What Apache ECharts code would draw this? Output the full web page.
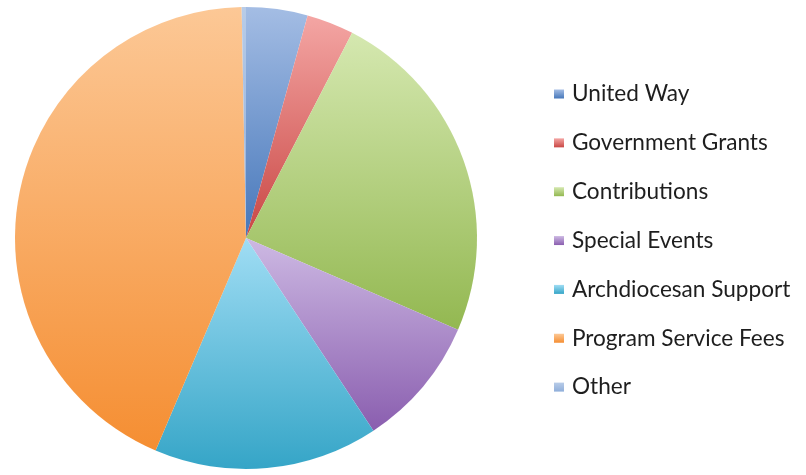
<!DOCTYPE html>
<html>
<head>
<meta charset="utf-8">
<script src="https://cdn.jsdelivr.net/npm/echarts@6/dist/echarts.min.js"></script>
<style>
html,body{margin:0;padding:0;background:#fff;}
#main{width:806px;height:475px;}
</style>
</head>
<body>
<div id="main"></div>
<script>
const categories = ["United Way", "Government Grants", "Contributions", "Special Events", "Archdiocesan Support", "Program Service Fees", "Other"];
const values = [4.3, 3.3, 23.9, 9.2, 15.7, 43.3, 0.3];
const lightColors = ["#A4BDE4", "#F4A6A4", "#D5E8B0", "#CDB9E3", "#A0DDF4", "#FCC896", "#B8CCE8"];
const darkColors  = ["#4677BA", "#C94744", "#93B851", "#8A5EAF", "#35A5C7", "#F58E32", "#8FAEDA"];

function grad(i) {
  return {
    type: 'linear', x: 0, y: 0, x2: 0, y2: 1,
    colorStops: [{offset: 0, color: lightColors[i]}, {offset: 1, color: darkColors[i]}]
  };
}

const chart = echarts.init(document.getElementById('main'), null, {renderer: 'canvas'});
chart.setOption({
  animation: false,
  backgroundColor: '#ffffff',
  legend: {
    orient: 'vertical',
    left: 549,
    top: 77,
    itemWidth: 10,
    itemHeight: 9,
    itemGap: 24.85,
    icon: 'rect',
    data: categories,
    textStyle: {
      fontFamily: 'Lato',
      fontSize: 22.6,
      lineHeight: 24,
      color: '#1e1e1e',
      padding: [0, 0, 0, 3]
    }
  },
  series: [{
    type: 'pie',
    center: [246, 238],
    radius: 231,
    startAngle: 90,
    clockwise: true,
    label: {show: false},
    labelLine: {show: false},
    emphasis: {disabled: true},
    itemStyle: {borderWidth: 0},
    data: categories.map((c, i) => ({name: c, value: values[i], itemStyle: {color: grad(i)}}))
  }]
});
</script>
</body>
</html>
